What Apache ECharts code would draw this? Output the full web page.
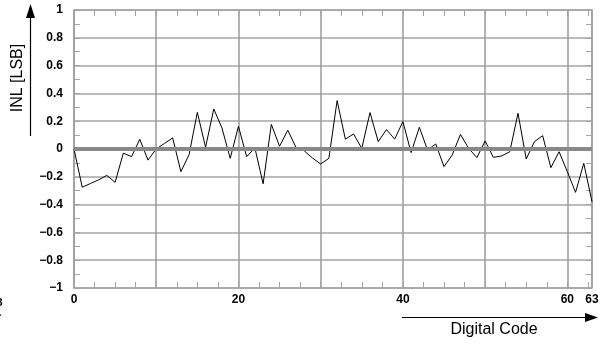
<!DOCTYPE html>
<html><head><meta charset="utf-8">
<script src="https://cdn.jsdelivr.net/npm/echarts@6/dist/echarts.min.js"></script>
<style>html,body{margin:0;padding:0;background:#fff}#c{width:608px;height:344px}</style>
</head><body><div id="c"></div>
<script>
const codes = [0,1,2,3,4,5,6,7,8,9,10,11,12,13,14,15,16,17,18,19,20,21,22,23,24,25,26,27,28,29,30,31,
  32,33,34,35,36,37,38,39,40,41,42,43,44,45,46,47,48,49,50,51,52,53,54,55,56,57,58,59,60,61,62,63];
const inl = [0.0,-0.275,-0.248,-0.222,-0.19,-0.24,-0.03,-0.055,0.07,-0.08,0.0,0.04,0.08,-0.163,-0.04,0.264,
  0.012,0.288,0.15,-0.067,0.163,-0.055,0.008,-0.25,0.177,0.02,0.135,0.012,-0.013,-0.065,-0.108,-0.067,
  0.348,0.071,0.108,0.005,0.262,0.053,0.14,0.071,0.197,-0.026,0.156,-0.007,0.036,-0.127,-0.043,0.105,
  0.005,-0.062,0.058,-0.06,-0.05,-0.02,0.257,-0.072,0.053,0.096,-0.134,-0.02,-0.163,-0.312,-0.103,-0.38];
const xTickLabels = [0,20,40,60,63];
const yTickLabels = [-1,-0.8,-0.6,-0.4,-0.2,0,0.2,0.4,0.6,0.8,1];

const FONT = '"Liberation Sans", Arial, sans-serif';
const gridColor = '#a4a4a4';
const chart = echarts.init(document.getElementById('c'), null, {renderer:'canvas'});
const minorAxisX = (pos) => ({
  type:'value', position:pos, min:0, max:63, interval:2.5,
  axisLine:{show:false, onZero:false}, axisLabel:{show:false}, splitLine:{show:false},
  axisTick:{show:true, inside:true, length:6, lineStyle:{color:gridColor, width:1}}
});
const minorAxisY = (pos) => ({
  type:'value', position:pos, min:-1, max:1, interval:0.1,
  axisLine:{show:false, onZero:false}, axisLabel:{show:false}, splitLine:{show:false},
  axisTick:{show:true, inside:true, length:6, lineStyle:{color:gridColor, width:1}}
});
const fmtY = v => {
  const r = Math.round(v*10)/10;
  if (!yTickLabels.some(t => Math.abs(t-r) < 1e-9)) return '';
  const s = (r === 0) ? '0' : (Math.abs(r) === 1 ? String(Math.abs(r)) : Math.abs(r).toFixed(1));
  return (r < 0 ? '\u2212' : '') + s;
};
chart.setOption({
  animation:false,
  backgroundColor:'#fff',
  grid:{left:74, right:16, top:10, bottom:56, show:true, borderColor:gridColor, borderWidth:1.5,
        containLabel:false, outerBoundsMode:'none'},
  xAxis:[
    {type:'value', position:'bottom', min:0, max:63, interval:10,
     axisLine:{show:false, onZero:false}, axisTick:{show:false},
     splitLine:{show:true, lineStyle:{color:'#9a9a9a', width:1.5}},
     axisLabel:{show:true, margin:6, hideOverlap:false, showMaxLabel:true, showMinLabel:true,
       color:'#000', fontFamily:FONT, fontWeight:'bold', fontSize:12,
       formatter: v => xTickLabels.includes(Math.round(v*100)/100) ? String(Math.round(v)) : ''}},
    minorAxisX('bottom'),
    minorAxisX('top')
  ],
  yAxis:[
    {type:'value', position:'left', min:-1, max:1, interval:0.2,
     axisLine:{show:false, onZero:false}, axisTick:{show:false},
     splitLine:{show:true, lineStyle:{color:gridColor, width:1.5}},
     axisLabel:{show:true, margin:11, color:'#000', fontFamily:FONT, fontWeight:'bold', fontSize:12,
       formatter: fmtY}},
    minorAxisY('left'),
    minorAxisY('right')
  ],
  series:[
    {type:'line', xAxisIndex:0, yAxisIndex:0, data:[], z:2, silent:true,
     markLine:{silent:true, symbol:['none','none'], label:{show:false},
       lineStyle:{color:'#888', width:4, type:'solid'}, data:[{yAxis:0}]}},
    {type:'line', xAxisIndex:0, yAxisIndex:0, z:3, showSymbol:false, symbol:'none', silent:true,
     lineStyle:{color:'#000', width:1}, data: codes.map((c,i) => [c, inl[i]])}
  ],
  graphic:[
    {type:'line', shape:{x1:30.5, y1:136, x2:30.5, y2:14}, style:{stroke:'#000', lineWidth:1.2}},
    {type:'polygon', shape:{points:[[30.5,4],[35,18],[26,18]]}, style:{fill:'#000'}},
    {type:'line', shape:{x1:402, y1:317.5, x2:590, y2:317.5}, style:{stroke:'#000', lineWidth:1.2}},
    {type:'polygon', shape:{points:[[598,317.5],[585,313],[585,322]]}, style:{fill:'#000'}},
    {type:'text', x:18, y:78, rotation:Math.PI/2,
     style:{text:'INL [LSB]', font:'16px ' + FONT, align:'center', verticalAlign:'middle', fill:'#000'}},
    {type:'text', x:494, y:330,
     style:{text:'Digital Code', font:'16px ' + FONT, align:'center', verticalAlign:'middle', fill:'#000'}},
    {type:'text', x:-3.5, y:302.5,
     style:{text:'3', font:'bold 11px ' + FONT, align:'left', verticalAlign:'middle', fill:'#000'}},
    {type:'text', x:-1.5, y:313,
     style:{text:'.', font:'bold 11px ' + FONT, align:'left', verticalAlign:'middle', fill:'#000'}}
  ]
});
</script></body></html>
